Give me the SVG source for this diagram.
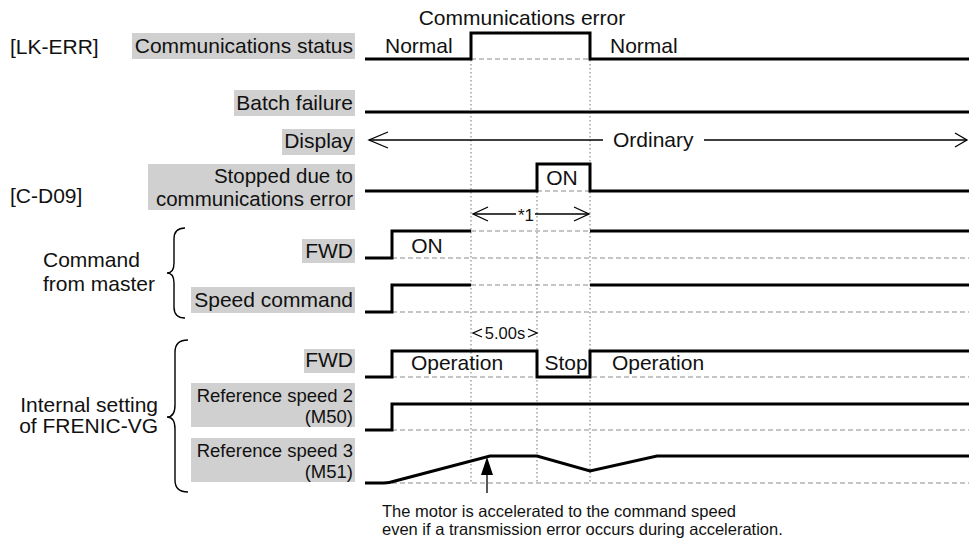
<svg xmlns="http://www.w3.org/2000/svg" width="969" height="544" viewBox="0 0 969 544">
<style>
text{font-family:"Liberation Sans",Arial,sans-serif;font-size:21px;fill:#111}
.r{text-anchor:end}
.m{text-anchor:middle}
.sm{font-size:18.5px}
.md{font-size:20.5px}
.box{fill:#d0d0d0}
.sig{fill:none;stroke:#000;stroke-width:3;stroke-linejoin:miter}
.dash{fill:none;stroke:#8c8c8c;stroke-width:1.2;stroke-dasharray:5 3}
.dot{fill:none;stroke:#8c8c8c;stroke-width:1.2;stroke-dasharray:1.5 2.5}
.thin{fill:none;stroke:#000;stroke-width:1.3}
.brace{fill:none;stroke:#000;stroke-width:1.4}
</style>
<rect width="969" height="544" fill="#fff"/>

<g id="connectors">
  <path class="dot" d="M471,60 V484 M590,60 V484 M537,192 V484"/>
  <!-- display arrow -->
  <path class="thin" d="M369,140 H603 M704,140 H967"/>
  <polyline class="thin" points="388,132 369,140 388,148"/>
  <polyline class="thin" points="955,133 967,140 955,147"/>
  <!-- *1 arrow -->
  <path class="thin" d="M473,214 H516 M535,214 H589"/>
  <polyline class="thin" points="488,207 473,214 488,221"/>
  <polyline class="thin" points="574,207 589,214 574,221"/>
  <!-- 5.00s arrows -->
  <polyline class="thin" points="482,329 473,333 482,337"/>
  <polyline class="thin" points="528,329 537,333 528,337"/>
  <!-- up arrow -->
  <path class="thin" d="M487,474 V493"/>
  <polygon points="487,457 481,475 493,475" fill="#000"/>
</g>

<g id="header">
  <text x="522" y="25" class="m">Communications error</text>
</g>

<g id="lk-err">
  <text x="10" y="54">[LK-ERR]</text>
</g>
<g id="c-d09">
  <text x="10" y="203">[C-D09]</text>
</g>

<g id="comm-status">
  <rect class="box" x="132" y="33" width="223" height="26"/>
  <text x="353" y="53" class="r">Communications status</text>
  <path class="dash" d="M471,59 H590"/>
  <path class="sig" d="M365,59 H471 V33 H590 V59 H969"/>
  <text x="385" y="53">Normal</text>
  <text x="610" y="53">Normal</text>
</g>

<g id="batch-failure">
  <rect class="box" x="234" y="90" width="121" height="26"/>
  <text x="353" y="110" class="r">Batch failure</text>
  <path class="sig" d="M365,112 H969"/>
</g>

<g id="display">
  <rect class="box" x="282" y="129" width="73" height="26"/>
  <text x="353" y="148" class="r">Display</text>
  <text x="613" y="147">Ordinary</text>
</g>

<g id="stopped">
  <rect class="box" x="148" y="164" width="207" height="46"/>
  <text class="r md"><tspan x="353" y="183">Stopped due to</tspan><tspan x="353" y="206">communications error</tspan></text>
  <path class="dash" d="M537,191 H590"/>
  <path class="sig" d="M365,191 H537 V164 H590 V191 H969"/>
  <text x="562" y="185" class="m">ON</text>
  <text x="526" y="221" class="m" style="font-size:17px">*1</text>
</g>

<g id="command-from-master">
  <text><tspan x="43" y="267">Command</tspan><tspan x="43" y="291">from master</tspan></text>
  <path class="brace" d="M185,228 Q174,228 174,239 V263 Q174,273 167,273 Q174,273 174,283 V307 Q174,318 185,318"/>
</g>

<g id="fwd-cmd">
  <rect class="box" x="302" y="239" width="53" height="24"/>
  <text x="353" y="258" class="r">FWD</text>
  <path class="dash" d="M392,258 H969 M471,231 H590"/>
  <path class="sig" d="M365,258 H392 V231 H471 M590,231 H969"/>
  <text x="427" y="253" class="m">ON</text>
</g>

<g id="speed-cmd">
  <rect class="box" x="191" y="287" width="164" height="26"/>
  <text x="353" y="307" class="r">Speed command</text>
  <path class="dash" d="M392,312 H969 M471,285 H590"/>
  <path class="sig" d="M365,312 H392 V285 H471 M590,285 H969"/>
</g>

<g id="internal-setting">
  <text class="r"><tspan x="158" y="412">Internal setting</tspan><tspan x="158" y="433">of FRENIC-VG</tspan></text>
  <path class="brace" d="M188,340 Q175,340 175,352 V405 Q175,417 167,417 Q175,417 175,429 V480 Q175,492 188,492"/>
  <text x="505" y="339" class="m" style="font-size:16.5px">5.00s</text>
</g>

<g id="fwd-int">
  <rect class="box" x="304" y="349" width="51" height="24"/>
  <text x="353" y="367" class="r">FWD</text>
  <path class="dash" d="M392,377 H969"/>
  <path class="sig" d="M365,377 H392 V351 H537 V377 H590 V351 H969"/>
  <text x="457" y="370" class="m">Operation</text>
  <text x="566" y="370" class="m">Stop</text>
  <text x="658" y="370" class="m">Operation</text>
</g>

<g id="ref-speed-2">
  <rect class="box" x="191" y="383" width="164" height="44"/>
  <text class="r sm"><tspan x="353" y="402">Reference speed 2</tspan><tspan x="353" y="423">(M50)</tspan></text>
  <path class="dash" d="M392,430 H969"/>
  <path class="sig" d="M365,430 H392 V404 H969"/>
</g>

<g id="ref-speed-3">
  <rect class="box" x="191" y="438" width="164" height="44"/>
  <text class="r sm"><tspan x="353" y="457">Reference speed 3</tspan><tspan x="353" y="478">(M51)</tspan></text>
  <path class="dash" d="M392,483 H969"/>
  <path class="sig" d="M365,483 H384 Q389,483 395,481 L490,456 H537 L590,471 L657,456 H969"/>
</g>

<g id="note">
  <text style="font-size:16.5px"><tspan x="382" y="517">The motor is accelerated to the command speed</tspan><tspan x="382" y="535">even if a transmission error occurs during acceleration.</tspan></text>
</g>
</svg>
